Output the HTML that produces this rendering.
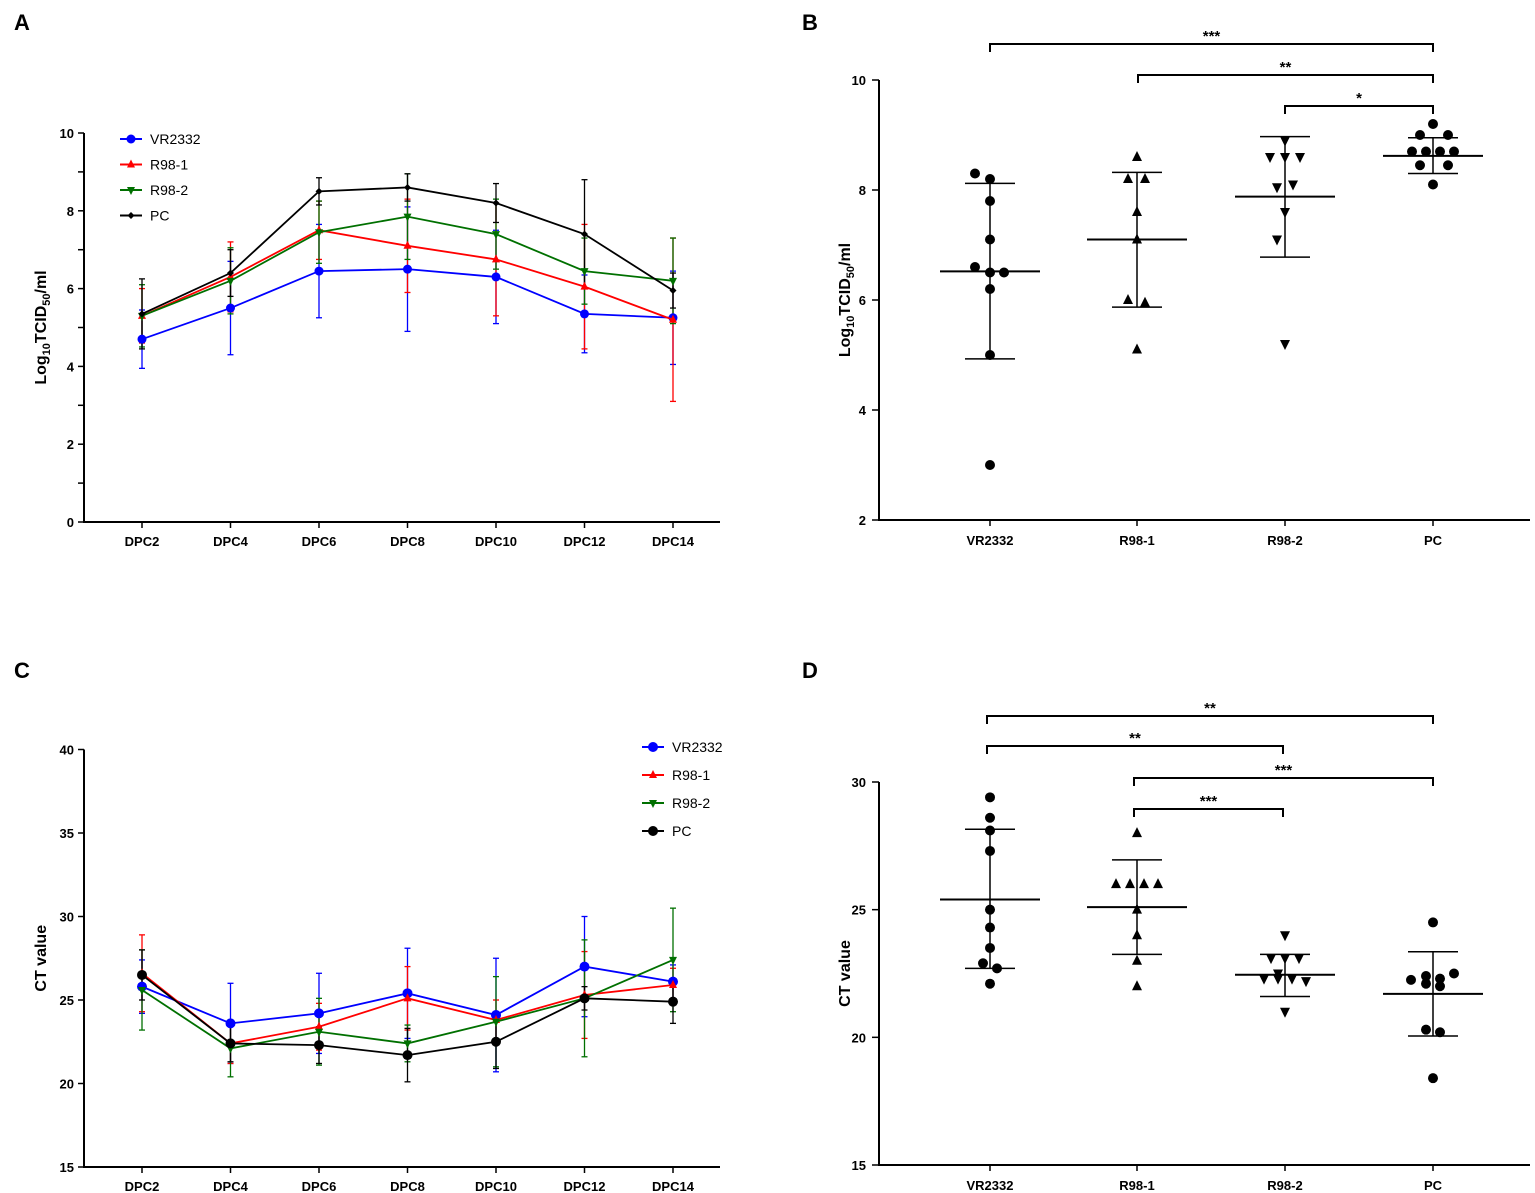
<!DOCTYPE html>
<html><head><meta charset="utf-8"><style>
body{margin:0;background:#fff}
svg{display:block;font-family:"Liberation Sans",Arial,sans-serif}
</style></head><body>
<svg id="s" width="1535" height="1193" viewBox="0 0 1535 1193" xmlns="http://www.w3.org/2000/svg"></svg>
<script>
const s=document.getElementById('s');let h='';
function L(x1,y1,x2,y2,c,w){h+=`<line x1="${x1}" y1="${y1}" x2="${x2}" y2="${y2}" stroke="${c||'#000'}" stroke-width="${w||1.5}"/>`;}
function T(x,y,t,sz,a,extra){h+=`<text x="${x}" y="${y}" font-size="${sz}" font-weight="bold" text-anchor="${a||'middle'}" ${extra||''}>${t}</text>`;}
function mk(x,y,shape,c,r){r=r||4.5;
 if(shape=='c')h+=`<circle cx="${x}" cy="${y}" r="${r}" fill="${c}"/>`;
 else if(shape=='u')h+=`<polygon points="${x},${y-r-1} ${x-r},${y+r-1} ${x+r},${y+r-1}" fill="${c}"/>`;
 else if(shape=='d')h+=`<polygon points="${x},${y+r+1} ${x-r},${y-r+1} ${x+r},${y-r+1}" fill="${c}"/>`;
 else if(shape=='m')h+=`<polygon points="${x},${y-r} ${x+r},${y} ${x},${y+r} ${x-r},${y}" fill="${c}"/>`;}
// panel letters
T(22,30,'A',22,'middle');T(810,30,'B',22,'middle');T(22,678,'C',22,'middle');T(810,678,'D',22,'middle');
const X=i=>142+88.5*i, labs=['DPC2','DPC4','DPC6','DPC8','DPC10','DPC12','DPC14'];
function linePanel(y0,v0,v1,ppu,ticks,tickStep,major,title,series,sdev,leg){
 const Y=v=>y0-(v-v0)*ppu, yTop=Y(v1);
 L(84,yTop,84,y0+1,'#000',2);L(83,y0,720,y0,'#000',2);
 for(let v=v0;v<=v1+1e-6;v+=tickStep){L(78,Y(v),84,Y(v),'#000',1.5);}
 for(const v of major){T(74,Y(v)+5,v,13,'end');}
 labs.forEach((l,i)=>{L(X(i),y0,X(i),y0+6,'#000',1.5);T(X(i),y0+24,l,13);});
 h+=`<text transform="translate(46,${(y0+yTop)/2}) rotate(-90)" font-size="16" font-weight="bold" text-anchor="middle">${title}</text>`;
 series.forEach((se,k)=>{
  se.v.forEach((v,i)=>{const e=sdev[k][i];L(X(i),Y(v+e),X(i),Y(v-e),se.c,1.3);L(X(i)-3,Y(v+e),X(i)+3,Y(v+e),se.c,1.3);L(X(i)-3,Y(v-e),X(i)+3,Y(v-e),se.c,1.3);});
 });
 series.forEach(se=>{h+=`<polyline fill="none" stroke="${se.c}" stroke-width="1.8" points="${se.v.map((v,i)=>X(i)+','+Y(v)).join(' ')}"/>`;
  se.v.forEach((v,i)=>mk(X(i),Y(v),se.m,se.c,se.r));});
 series.forEach((se,k)=>{const lx=leg[0],ly=leg[1]+k*leg[2];L(lx,ly,lx+22,ly,se.c,2);mk(lx+11,ly,se.m,se.c,se.r);h+=`<text x="${lx+30}" y="${ly+5}" font-size="14">${se.n}</text>`;});
}
// Panel A
linePanel(522,0,10,38.9,0,1,[0,2,4,6,8,10],'Log<tspan font-size="11" dy="4">10</tspan><tspan dy="-4">TCID</tspan><tspan font-size="11" dy="4">50</tspan><tspan dy="-4">/ml</tspan>',
[{n:'VR2332',c:'#0000ff',m:'c',r:4.5,v:[4.7,5.5,6.45,6.5,6.3,5.35,5.25]},
 {n:'R98-1',c:'#ff0000',m:'u',r:4,v:[5.3,6.3,7.5,7.1,6.75,6.05,5.2]},
 {n:'R98-2',c:'#007000',m:'d',r:4,v:[5.3,6.2,7.45,7.85,7.4,6.45,6.2]},
 {n:'PC',c:'#000',m:'m',r:3.5,v:[5.35,6.4,8.5,8.6,8.2,7.4,5.95]}],
[[0.75,1.2,1.2,1.6,1.2,1.0,1.2],[0.7,0.9,0.75,1.2,1.45,1.6,2.1],[0.8,0.85,0.8,1.1,0.9,0.85,1.1],[0.9,0.6,0.35,0.35,0.5,1.4,0.45]],[120,139,25.5]);
// Panel C
linePanel(1167,15,40,16.7,0,5,[15,20,25,30,35,40],'CT value',
[{n:'VR2332',c:'#0000ff',m:'c',r:5,v:[25.8,23.6,24.2,25.4,24.1,27.0,26.1]},
 {n:'R98-1',c:'#ff0000',m:'u',r:4,v:[26.6,22.4,23.4,25.1,23.8,25.3,25.9]},
 {n:'R98-2',c:'#007000',m:'d',r:4,v:[25.6,22.1,23.1,22.4,23.7,25.1,27.4]},
 {n:'PC',c:'#000',m:'c',r:5,v:[26.5,22.4,22.3,21.7,22.5,25.1,24.9]}],
[[1.6,2.4,2.4,2.7,3.4,3.0,1.0],[2.3,1.2,1.4,1.9,1.2,2.6,1.0],[2.4,1.7,2.0,1.1,2.7,3.5,3.1],[1.5,1.1,1.1,1.6,1.6,0.7,1.3]],[642,747,28]);
// scatter panels
const GX=[990,1137,1285,1433],GL=['VR2332','R98-1','R98-2','PC'];
function scatPanel(yA,vA,yB,vB,major,tickStep,title,groups,br){
 const ppu=(yB-yA)/(vB-vA),Y=v=>yA+(v-vA)*ppu;
 L(879,Y(major[major.length-1]),879,yA+1,'#000',2);L(878,yA,1530,yA,'#000',2);
 for(const v of major){L(872,Y(v),879,Y(v),'#000',1.5);T(866,Y(v)+5,v,13,'end');}
 GX.forEach((x,i)=>{L(x,yA,x,yA+6,'#000',1.5);T(x,yA+25,GL[i],13);});
 h+=`<text transform="translate(850,${(yA+Y(major[major.length-1]))/2}) rotate(-90)" font-size="16" font-weight="bold" text-anchor="middle">${title}</text>`;
 groups.forEach((g,i)=>{const x=GX[i];L(x,Y(g.hi),x,Y(g.lo),'#000',1.5);L(x-25,Y(g.hi),x+25,Y(g.hi),'#000',1.5);L(x-25,Y(g.lo),x+25,Y(g.lo),'#000',1.5);L(x-50,Y(g.m),x+50,Y(g.m),'#000',2);
  g.p.forEach(p=>mk(x+p[0],Y(p[1]),g.s,'#000',5));});
 br.forEach(b=>{h+=`<polyline fill="none" stroke="#000" stroke-width="2" points="${b[0]},${b[2]+8} ${b[0]},${b[2]} ${b[1]},${b[2]} ${b[1]},${b[2]+8}"/>`;T((b[0]+b[1])/2,b[2]-3,b[3],15);});
}
// Panel B: 10 at y=80, 2 at 520
scatPanel(520,2,80,10,[2,4,6,8,10],2,'Log<tspan font-size="11" dy="4">10</tspan><tspan dy="-4">TCID</tspan><tspan font-size="11" dy="4">50</tspan><tspan dy="-4">/ml</tspan>',
[{s:'c',m:6.52,hi:8.12,lo:4.93,p:[[-15,8.3],[0,8.2],[0,7.8],[0,7.1],[-15,6.6],[0,6.5],[14,6.5],[0,6.2],[0,5.0],[0,3.0]]},
 {s:'u',m:7.1,hi:8.32,lo:5.87,p:[[0,8.6],[-9,8.2],[8,8.2],[0,7.6],[0,7.1],[-9,6.0],[8,5.95],[0,5.1]]},
 {s:'d',m:7.88,hi:8.97,lo:6.78,p:[[0,8.9],[-15,8.6],[0,8.6],[15,8.6],[-8,8.05],[8,8.1],[0,7.6],[-8,7.1],[0,5.2]]},
 {s:'c',m:8.62,hi:8.95,lo:8.3,p:[[0,9.2],[-13,9.0],[15,9.0],[-21,8.7],[-7,8.7],[7,8.7],[21,8.7],[-13,8.45],[15,8.45],[0,8.1]]}],
[[990,1433,44,'***'],[1138,1433,75,'**'],[1285,1433,106,'*']]);
// Panel D: 30 at 782, 15 at 1165
scatPanel(1165,15,782,30,[15,20,25,30],5,'CT value',
[{s:'c',m:25.4,hi:28.15,lo:22.7,p:[[0,29.4],[0,28.6],[0,28.1],[0,27.3],[0,25.0],[0,24.3],[0,23.5],[-7,22.9],[7,22.7],[0,22.1]]},
 {s:'u',m:25.1,hi:26.95,lo:23.25,p:[[0,28.0],[-21,26.0],[-7,26.0],[7,26.0],[21,26.0],[0,25.0],[0,24.0],[0,23.0],[0,22.0]]},
 {s:'d',m:22.45,hi:23.25,lo:21.6,p:[[0,24.0],[-14,23.1],[0,23.1],[14,23.1],[-7,22.5],[-21,22.3],[-7,22.3],[7,22.3],[21,22.2],[0,21.0]]},
 {s:'c',m:21.7,hi:23.35,lo:20.05,p:[[0,24.5],[-22,22.25],[-7,22.4],[7,22.3],[21,22.5],[-7,22.1],[7,22.0],[-7,20.3],[7,20.2],[0,18.4]]}],
[[987,1433,716,'**'],[987,1283,746,'**'],[1134,1433,778,'***'],[1134,1283,809,'***']]);
s.innerHTML=h;
</script>
</body></html>
